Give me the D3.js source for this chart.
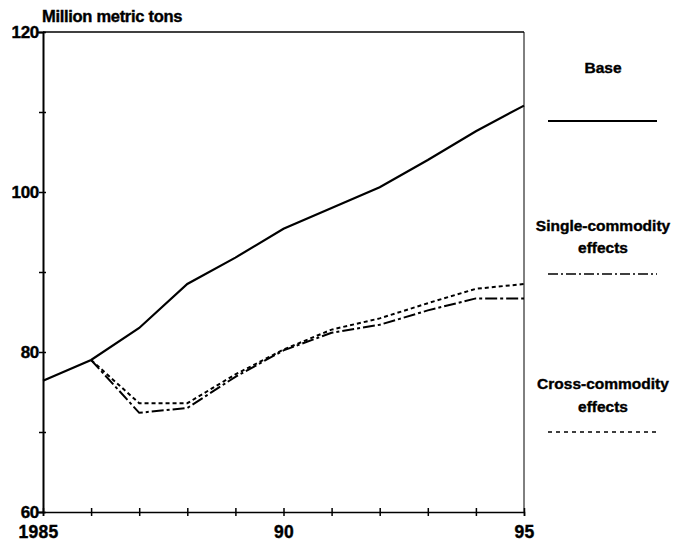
<!DOCTYPE html>
<html><head><meta charset="utf-8">
<script src="https://cdn.jsdelivr.net/npm/d3@7"></script>
<style>body{margin:0;background:#fff}svg{display:block}text{font-family:"Liberation Sans",Arial,sans-serif;font-weight:bold;fill:#000;stroke:#000;stroke-width:0.4px}</style>
</head><body><div id="chart"></div>
<script>
const years = [1985,1986,1987,1988,1989,1990,1991,1992,1993,1994,1995];
const base = [76.4,79.0,83.0,88.5,91.8,95.4,98.0,100.6,104.0,107.6,110.8];
const single = [null,79.0,72.4,73.0,76.9,80.2,82.4,83.4,85.2,86.7,86.7];
const cross = [null,79.0,73.6,73.6,77.2,80.3,82.8,84.2,86.1,87.9,88.5];
const xTickLabels = [[1985,"1985"],[1990,"90"],[1995,"95"]];
const yTickLabels = [60,80,100,120];
const legendItems = ["Base","Single-commodity effects","Cross-commodity effects"];

const W=675,H=542;
const svg=d3.select("#chart").append("svg").attr("width",W).attr("height",H);
const x=d3.scaleLinear().domain([1985,1995]).range([43,524]);
const y=d3.scaleLinear().domain([60,120]).range([512,32]);

// frame
svg.append("line").attr("x1",x(1985)).attr("x2",x(1995)).attr("y1",y(120)).attr("y2",y(120)).attr("stroke","#000").attr("stroke-width",1.5);
svg.append("line").attr("x1",x(1995)).attr("x2",x(1995)).attr("y1",y(120)).attr("y2",y(60)).attr("stroke","#000").attr("stroke-width",1);

// axes
const yAxis=d3.axisLeft(y).tickValues(d3.range(60,121,10)).tickSize(5).tickFormat(d=>yTickLabels.includes(d)?d:"");
const gy=svg.append("g").attr("transform",`translate(${x(1985)},0)`).call(yAxis);
gy.select(".domain").attr("stroke-width",2);
gy.selectAll(".tick line").attr("x1",3).attr("x2",-4).attr("stroke-width",1.5);
gy.selectAll("text").attr("font-size",17).attr("x",-4).attr("letter-spacing",-0.3);

const xAxis=d3.axisBottom(x).tickValues(years).tickSize(4).tickFormat(d=>{const f=xTickLabels.find(t=>t[0]===d);return f?f[1]:"";});
const gx=svg.append("g").attr("transform",`translate(0,${y(60)})`).call(xAxis);
gx.select(".domain").attr("stroke-width",1.5);
gx.selectAll(".tick line").attr("y1",-4).attr("y2",4).attr("stroke-width",1.5);
gx.selectAll("text").attr("font-size",17.5).attr("y",14).attr("letter-spacing",0.3);
gx.selectAll(".tick text").filter(d=>d===1985).attr("dx",-5);

svg.append("text").attr("x",42).attr("y",22).attr("font-size",16.5).attr("letter-spacing",-0.3).text("Million metric tons");

// series
const mk=(vals)=>years.map((yr,i)=>({yr,v:vals[i]}));
const line=d3.line().defined(d=>d.v!=null).x(d=>x(d.yr)).y(d=>y(d.v));
svg.append("path").datum(mk(base)).attr("d",line).attr("fill","none").attr("stroke","#000").attr("stroke-width",2.2);
svg.append("path").datum(mk(cross)).attr("d",line).attr("fill","none").attr("stroke","#000").attr("stroke-width",2).attr("stroke-dasharray","4,3");
svg.append("path").datum(mk(single)).attr("d",line).attr("fill","none").attr("stroke","#000").attr("stroke-width",2).attr("stroke-dasharray","12,3,3,3");

// legend
const lg=svg.append("g");
const lx1=548,lx2=657,lcx=603;
const fs=15.5;
lg.append("text").attr("x",lcx).attr("y",73).attr("text-anchor","middle").attr("font-size",fs).text(legendItems[0]);
lg.append("line").attr("x1",lx1).attr("x2",lx2).attr("y1",121).attr("y2",121).attr("stroke","#000").attr("stroke-width",2);
lg.append("text").attr("x",lcx).attr("y",231).attr("text-anchor","middle").attr("font-size",fs).text("Single-commodity");
lg.append("text").attr("x",lcx).attr("y",253).attr("text-anchor","middle").attr("font-size",fs).text("effects");
lg.append("line").attr("x1",lx1).attr("x2",lx2).attr("y1",274).attr("y2",274).attr("stroke","#000").attr("stroke-width",1.5).attr("stroke-dasharray","10,3,2,3");
lg.append("text").attr("x",lcx).attr("y",389).attr("text-anchor","middle").attr("font-size",fs).text("Cross-commodity");
lg.append("text").attr("x",lcx).attr("y",412).attr("text-anchor","middle").attr("font-size",fs).text("effects");
lg.append("line").attr("x1",lx1).attr("x2",lx2).attr("y1",432).attr("y2",432).attr("stroke","#000").attr("stroke-width",1.5).attr("stroke-dasharray","4,4");
</script></body></html>
